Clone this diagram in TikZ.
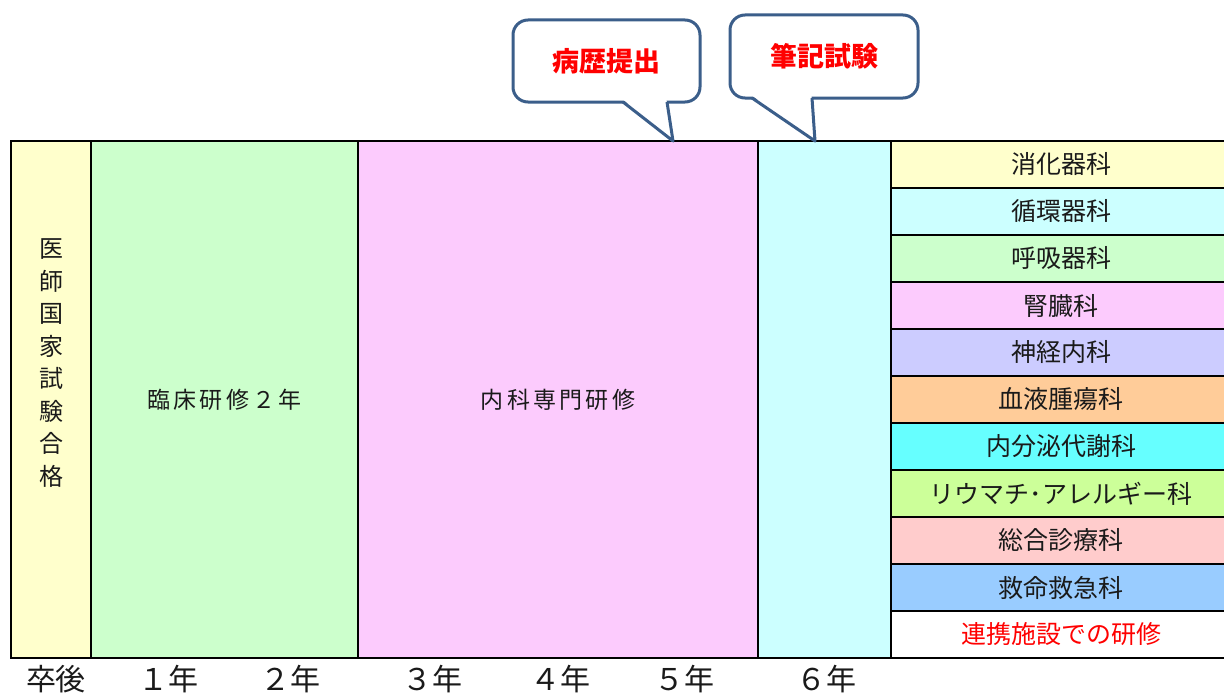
\documentclass[tikz,border=0pt]{standalone}
\usepackage{fontspec}
\usetikzlibrary{calc}
\newfontfamily\jp{Noto Sans CJK JP}
\newfontfamily\jpsp{Noto Sans CJK JP}[LetterSpace=14]
\definecolor{cYellow}{HTML}{FFFFCC}
\definecolor{cGreen}{HTML}{CCFFCC}
\definecolor{cPink}{HTML}{FCCBFD}
\definecolor{cCyan}{HTML}{CCFFFF}
\definecolor{cLav}{HTML}{CCCCFF}
\definecolor{cOrange}{HTML}{FFCC99}
\definecolor{cAqua}{HTML}{66FFFF}
\definecolor{cLime}{HTML}{CCFF99}
\definecolor{cRose}{HTML}{FFCCCC}
\definecolor{cBlue}{HTML}{99CCFF}
\definecolor{cBorder}{RGB}{59,94,138}
\definecolor{cText}{HTML}{1A1A1A}
\tikzset{
  col/.style={draw=black, line width=1.5pt, anchor=north west, inner sep=0pt, outer sep=0pt, text=cText},
  rowbox/.style={col, minimum width=340pt, minimum height=47pt, font=\jp\fontsize{25}{29}\selectfont},
  maintext/.style={font=\jpsp\fontsize{23}{27}\selectfont},
  callbox/.style={draw=cBorder, line width=3pt, fill=white, rounded corners=15pt, inner sep=0pt, text=red, font=\jp\bfseries\fontsize{27}{31}\selectfont},
  pointer/.style={draw=cBorder, line width=3pt, line join=round},
  yearlabel/.style={text=cText, font=\jp\fontsize{30}{34}\selectfont, inner sep=0pt}
}
\begin{document}
\begin{tikzpicture}[x=1pt,y=-1pt]
\useasboundingbox (0,0) rectangle (1224,693);
% main columns
\node[col, fill=cYellow, minimum width=80pt, minimum height=517pt] (c0) at (11,141) {};
\node[col, fill=cGreen, minimum width=267pt, minimum height=517pt, maintext] (c1) at (91,141) {臨床研修２年};
\node[col, fill=cPink, minimum width=400pt, minimum height=517pt, maintext] (c2) at (358,141) {内科専門研修};
\node[col, fill=cCyan, minimum width=133pt, minimum height=517pt] (c3) at (758,141) {};
\node[text=cText, font=\jp\fontsize{24}{32.5}\selectfont, align=center, inner sep=0pt] (vt) at (51,363) {医\\師\\国\\家\\試\\験\\合\\格};
% right column
\node[rowbox, fill=cYellow] (r1) at (891,141) {消化器科};
\node[rowbox, fill=cCyan] (r2) at (891,188) {循環器科};
\node[rowbox, fill=cGreen] (r3) at (891,235) {呼吸器科};
\node[rowbox, fill=cPink] (r4) at (891,282) {腎臓科};
\node[rowbox, fill=cLav] (r5) at (891,329) {神経内科};
\node[rowbox, fill=cOrange] (r6) at (891,376) {血液腫瘍科};
\node[rowbox, fill=cAqua] (r7) at (891,423) {内分泌代謝科};
\node[rowbox, fill=cLime] (r8) at (891,470) {リウマチ･アレルギー科};
\node[rowbox, fill=cRose] (r9) at (891,517) {総合診療科};
\node[rowbox, fill=cBlue] (r10) at (891,564) {救命救急科};
\node[rowbox, fill=white, text=red] (r11) at (891,611) {連携施設での研修};
% callout A
\node[callbox, minimum width=187pt, minimum height=82pt] (callA) at (606.5,61) {病歴提出};
\coordinate (pa1) at (623,102);
\coordinate (pa2) at (667,102);
\coordinate (tipA) at (673,141);
\fill[white] ($(pa1)+(0.5,-2)$) -- (tipA) -- ($(pa2)+(-0.5,-2)$) -- cycle;
\draw[pointer] (pa1) -- (tipA) -- (pa2);
% callout B
\node[callbox, minimum width=188pt, minimum height=83pt] (callB) at (824,56.5) {筆記試験};
\coordinate (pb1) at (752,98);
\coordinate (pb2) at (812,98);
\coordinate (tipB) at (815,141);
\fill[white] ($(pb1)+(0.5,-2)$) -- (tipB) -- ($(pb2)+(-0.5,-2)$) -- cycle;
\draw[pointer] (pb1) -- (tipB) -- (pb2);
% year labels
\node[yearlabel] (y0) at (56,679) {卒後};
\node[yearlabel] (y1) at (168,679) {１年};
\node[yearlabel] (y2) at (290,679) {２年};
\node[yearlabel] (y3) at (432,679) {３年};
\node[yearlabel] (y4) at (560,679) {４年};
\node[yearlabel] (y5) at (684,679) {５年};
\node[yearlabel] (y6) at (826,679) {６年};
\end{tikzpicture}
\end{document}
